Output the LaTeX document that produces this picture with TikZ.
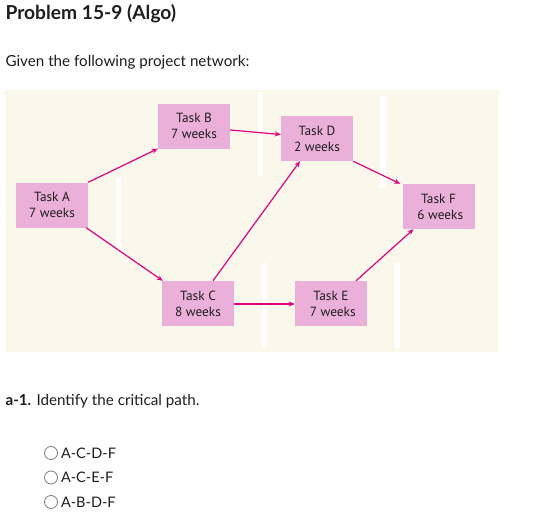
\documentclass[tikz,border=0pt]{standalone}
\usepackage{fontspec}
\setmainfont{Lato}
\newfontfamily\boxfont{PT Sans}
\usetikzlibrary{arrows.meta,backgrounds}
\definecolor{bgcream}{HTML}{FAF8EA}
\definecolor{taskpink}{HTML}{EBB0D9}
\definecolor{arrowmag}{HTML}{E4007E}
\definecolor{txt}{HTML}{1E1E1E}
\definecolor{radiogray}{HTML}{7A7A7A}
\tikzset{
  taskbox/.style={rectangle, fill=taskpink, minimum width=72pt, minimum height=45pt,
    inner sep=0pt, align=center, font=\boxfont\fontsize{13.3}{16}\selectfont, text=txt},
  conn/.style={draw=arrowmag, line width=1.2pt, -{Stealth[length=6pt,width=5pt]}},
  gap/.style={fill=white},
  glow/.style={fill=taskpink, opacity=0.18},
  radio/.style={circle, draw=radiogray, line width=0.8pt, minimum size=13pt, inner sep=0pt},
  bodytext/.style={anchor=west, font=\fontsize{15.2}{18}\selectfont, text=txt},
}
\begin{document}
\begin{tikzpicture}[x=1pt,y=-1pt]
\useasboundingbox (0,0) rectangle (555,530);
\fill[white] (0,0) rectangle (555,530);

\node[anchor=west, font=\bfseries\fontsize{19.2}{22}\selectfont, text=txt] (title) at (2,14) {Problem 15-9 (Algo)};
\node[bodytext] (given) at (2,62) {Given the following project network:};

% background panel
\fill[bgcream] (5,90) rectangle (499,352);
\fill[gap] (116,178) rectangle (121,254);
\fill[gap] (258,92) rectangle (263,176);
\fill[gap] (262,263) rectangle (267,347);
\fill[gap] (380,96) rectangle (386,188);
\fill[gap] (395,263) rectangle (400,348);

\node[taskbox] (A) at (52,205) {Task A\\7 weeks};
\node[taskbox] (B) at (194,126) {Task B\\7 weeks};
\node[taskbox] (D) at (317,138.5) {Task D\\2 weeks};
\node[taskbox] (F) at (438.5,206.5) {Task F\\\ 6 weeks};
\node[taskbox] (C) at (198,303.5) {Task C\\8 weeks};
\node[taskbox] (E) at (331,303.5) {Task E\\\ 7 weeks};

\begin{scope}[on background layer]
\foreach \n in {A,B,C,D,E,F}{
  \foreach \s in {2,4,6}{
    \fill[glow] ([shift={(-\s+1,-\s+1)}]\n.north west) rectangle ([shift={(\s+1,\s+1)}]\n.south east);
  }
}
\end{scope}

\draw[conn] (A.north east) -- (B.south west);
\draw[conn] ([yshift=-4pt]B.east) -- ([yshift=4pt]D.west);
\draw[conn] (D.south east) -- ([xshift=-2pt]F.north west);
\draw[conn] ([xshift=-2pt]A.south east) -- ([xshift=1pt]C.north west);
\draw[conn] ([xshift=15pt]C.north) -- ([xshift=-17pt]D.south);
\draw[conn] ([yshift=-0.5pt]C.east) -- ([yshift=-0.5pt]E.west);
\draw[conn] ([xshift=25pt]E.north) -- ([xshift=-25pt]F.south);

\node[bodytext] (q) at (2,401) {\textbf{a-1.} Identify the critical path.};

\node[radio] (r1) at (51,453) {};
\node[radio] (r2) at (51,477.5) {};
\node[radio] (r3) at (51,502) {};
\node[bodytext, font=\fontsize{14.5}{17}\selectfont] (o1) at (57.5,453) {A-C-D-F};
\node[bodytext, font=\fontsize{14.5}{17}\selectfont] (o2) at (57.5,477.5) {A-C-E-F};
\node[bodytext, font=\fontsize{14.5}{17}\selectfont] (o3) at (57.5,502) {A-B-D-F};
\end{tikzpicture}
\end{document}
